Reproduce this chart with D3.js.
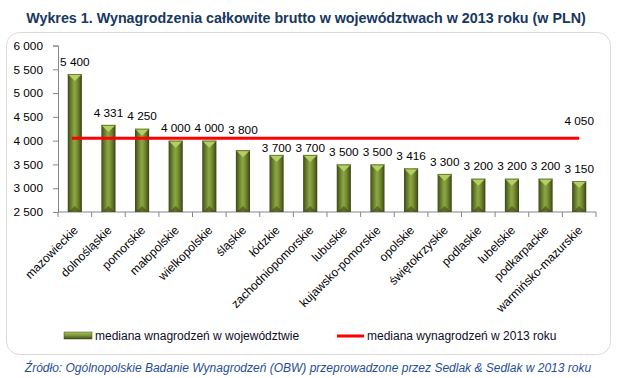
<!DOCTYPE html>
<html><head><meta charset="utf-8">
<script src="https://cdn.jsdelivr.net/npm/d3@7"></script>
<style>body{margin:0;background:#fff}svg{display:block}</style>
</head><body>
<svg id="c" width="622" height="378"></svg>
<script>
const categories = ["mazowieckie","dolnośląskie","pomorskie","małopolskie","wielkopolskie","śląskie","łódzkie","zachodniopomorskie","lubuskie","kujawsko-pomorskie","opolskie","świętokrzyskie","podlaskie","lubelskie","podkarpackie","warmińsko-mazurskie"];
const values = [5400,4331,4250,4000,4000,3800,3700,3700,3500,3500,3416,3300,3200,3200,3200,3150];
const nationalMedian = 4050;
const yTicks = [2500,3000,3500,4000,4500,5000,5500,6000];
const titleText = "Wykres 1. Wynagrodzenia całkowite brutto w województwach w 2013 roku (w PLN)";
const legendLabels = ["mediana wnagrodzeń  w województwie","mediana wynagrodzeń  w 2013 roku"];
const sourceText = "Źródło: Ogólnopolskie Badanie Wynagrodzeń (OBW) przeprowadzone przez Sedlak & Sedlak w 2013 roku";

const svg = d3.select("#c");
const font = "'Liberation Sans', Arial, sans-serif";
const fmt = v => d3.format(",")(v).replace(/,/g, " ");

const defs = svg.append("defs");
const g1 = defs.append("linearGradient").attr("id","barG").attr("x1","0").attr("x2","1").attr("y1","0").attr("y2","0");
[[0,"#3b4716"],[0.18,"#5f7326"],[0.45,"#8da544"],[0.6,"#82993b"],[0.85,"#576a20"],[1,"#34401a"]].forEach(s=>g1.append("stop").attr("offset",s[0]).attr("stop-color",s[1]));
const g2 = defs.append("linearGradient").attr("id","legG").attr("x1","0").attr("x2","0").attr("y1","0").attr("y2","1");
[[0,"#a9c25a"],[0.5,"#7c9436"],[1,"#3f4d17"]].forEach(s=>g2.append("stop").attr("offset",s[0]).attr("stop-color",s[1]));

// title
svg.append("text").attr("x",306).attr("y",23).attr("text-anchor","middle")
  .attr("font-family",font).attr("font-weight","bold").attr("font-size",14.3).attr("fill","#17375e").text(titleText);

// frame
svg.append("rect").attr("x",6.5).attr("y",32.5).attr("width",604).attr("height",322).attr("rx",13)
  .attr("fill","#fff").attr("stroke","#d9d9d9").attr("stroke-width",1);

const x = d3.scaleBand().domain(categories).range([58,596]).paddingInner(0.58).paddingOuter(0.29);
const y = d3.scaleLinear().domain([2500,6000]).range([212,45.5]);
const bandStep = x.step();

// y axis
const ya = svg.append("g").attr("transform","translate(58,0)")
  .call(d3.axisLeft(y).tickValues(yTicks).tickFormat(fmt).tickSize(5).tickPadding(10));
ya.select(".domain").attr("stroke","#868686");
ya.selectAll(".tick line").attr("stroke","#868686");
ya.selectAll("text").attr("font-family",font).attr("font-size",11.8).attr("fill","#000");

// x axis
const xa = svg.append("g").attr("transform","translate(0,212)");
xa.append("line").attr("x1",58).attr("x2",596).attr("stroke","#868686");
d3.range(categories.length+1).forEach(i=>{
  const px = 58 + i*bandStep;
  xa.append("line").attr("x1",px).attr("x2",px).attr("y1",0).attr("y2",5).attr("stroke","#868686");
});
categories.forEach(c=>{
  const cx = x(c)+x.bandwidth()/2 + 4;
  xa.append("text").attr("transform",`translate(${cx},19) rotate(-45)`).attr("text-anchor","end")
    .attr("font-family",font).attr("font-size",12).attr("fill","#000").text(c);
});

// bars
const bw = x.bandwidth();
const lineY = y(nationalMedian);
const labelCenter = d => {
  let c = y(d) - 12.5;
  if (Math.abs(c - lineY) < 8) c = c < lineY ? lineY - 8.5 : lineY + 10;
  return c;
};
const bars = svg.append("g").selectAll("g").data(values).join("g")
  .attr("transform",(d,i)=>`translate(${x(categories[i])},0)`);
bars.append("rect").attr("x",0).attr("y",d=>y(d)).attr("width",bw).attr("height",d=>212-y(d)).attr("fill","url(#barG)");
bars.append("rect").attr("x",0).attr("y",d=>y(d)).attr("width",bw).attr("height",1.2).attr("fill","#6f8530");
bars.append("path").attr("d",d=>{const t=y(d); return `M1,${t+1}L${bw-1},${t+1}L${bw/2},${t+7}Z`;}).attr("fill","#b4cf66");
bars.append("path").attr("d",()=>`M1,212L${bw-1},212L${bw/2},206Z`).attr("fill","#3e4a18").attr("opacity",0.6);

// national median line
const first = x(categories[0])+bw/2-3, last = x(categories[categories.length-1])+bw/2;
svg.append("line").attr("x1",first).attr("x2",last).attr("y1",lineY).attr("y2",lineY)
  .attr("stroke","#ff0000").attr("stroke-width",3);
svg.append("text").attr("x",last).attr("y",lineY-13).attr("text-anchor","middle")
  .attr("font-family",font).attr("font-size",11.8).attr("fill","#000").text(fmt(nationalMedian));

// bar labels (on top)
svg.append("g").selectAll("text").data(values).join("text")
  .attr("x",(d,i)=>x(categories[i])+bw/2).attr("y",d=>labelCenter(d)).attr("dy","0.35em").attr("text-anchor","middle")
  .attr("font-family",font).attr("font-size",11.8).attr("fill","#000").text(d=>fmt(d));

// legend
svg.append("rect").attr("x",64).attr("y",332).attr("width",28).attr("height",7).attr("fill","url(#legG)").attr("stroke","#3f4d17").attr("stroke-width",0.5);
svg.append("text").attr("x",95).attr("y",340).attr("font-family",font).attr("font-size",12).attr("fill","#0d0d26").text(legendLabels[0]);
svg.append("line").attr("x1",337).attr("x2",364).attr("y1",336).attr("y2",336).attr("stroke","#ff0000").attr("stroke-width",3);
svg.append("text").attr("x",367).attr("y",340).attr("font-family",font).attr("font-size",12).attr("fill","#0d0d26").text(legendLabels[1]);

// source
svg.append("text").attr("x",308).attr("y",372).attr("text-anchor","middle").attr("font-family",font)
  .attr("font-style","italic").attr("font-size",12).attr("fill","#1f4e9a").text(sourceText);
</script>
</body></html>
